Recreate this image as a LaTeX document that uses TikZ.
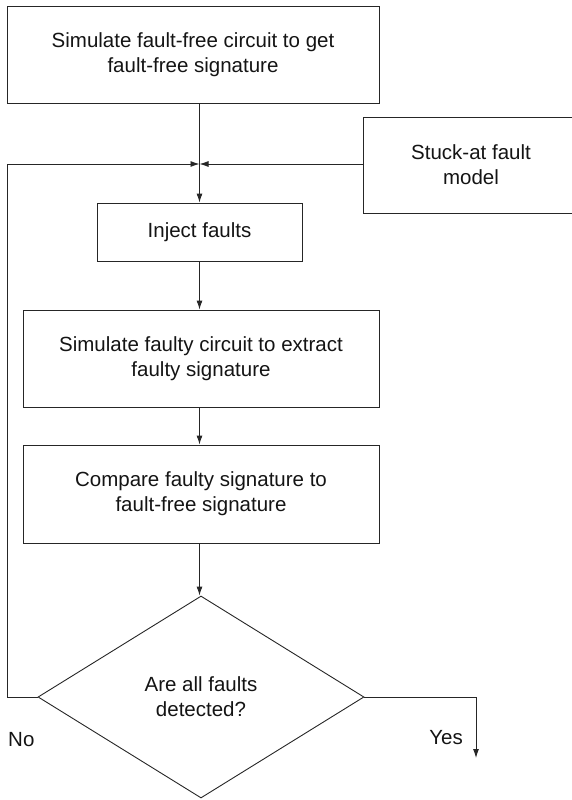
\documentclass[tikz,border=0pt]{standalone}
\usepackage{fontspec}
\setmainfont{Liberation Sans}
\usetikzlibrary{shapes.geometric,arrows.meta}

\tikzset{
  ink/.style={draw=black!85, line width=0.9pt},
  label font/.style={font=\fontsize{20.5}{25}\selectfont, text=black!92},
  stepbox/.style={ink, rectangle, inner sep=0pt, align=center, label font},
  flow/.style={ink, -{Latex[length=9pt,width=6pt]}},
  answer/.style={label font, inner sep=0pt}
}

\begin{document}
\begin{tikzpicture}[x=1pt, y=-1pt]
  \useasboundingbox (0,0) rectangle (572,800);

  % process boxes
  \node[stepbox, minimum width=372pt, minimum height=97pt] (sim) at (193,54.5)
    {Simulate fault-free circuit to get\\fault-free signature};
  \node[stepbox, minimum width=216pt, minimum height=96pt] (model) at (471,165)
    {Stuck-at fault\\model};
  \node[stepbox, minimum width=205pt, minimum height=58pt] (inject) at (199.5,232)
    {Inject faults};
  \node[stepbox, minimum width=356pt, minimum height=97pt] (faulty) at (201,358.5)
    {Simulate faulty circuit to extract\\faulty signature};
  \node[stepbox, minimum width=356pt, minimum height=98pt] (compare) at (201,494)
    {Compare faulty signature to\\fault-free signature};

  % decision
  \node[ink, diamond, inner sep=0pt, minimum width=326pt, minimum height=202pt,
        align=center, label font]
    (decide) at (201,697) {Are all faults\\detected?};

  % junction and free ends
  \coordinate (join) at (199.5,164);
  \coordinate (loopcorner) at (7,697);
  \coordinate (yesend) at (476,758);

  % main flow
  \draw[flow] (sim.south -| join) -- (inject.north -| join);
  \draw[flow] (inject.south -| join) -- (faulty.north -| join);
  \draw[flow] (faulty.south -| join) -- (compare.north -| join);
  \draw[flow] (compare.south -| join) -- (decide.north -| join);

  % fault model feeding the junction
  \draw[flow] (model.west |- join) -- (join);

  % "No" loop back to the junction
  \draw[flow] (decide.west) -- (loopcorner) |- (join);

  % "Yes" exit
  \draw[flow] (decide.east) -| (yesend);

  % branch labels
  \node[answer, anchor=west] (nolabel) at (8,740) {No};
  \node[answer, anchor=east] (yeslabel) at (463,738) {Yes};
\end{tikzpicture}
\end{document}
